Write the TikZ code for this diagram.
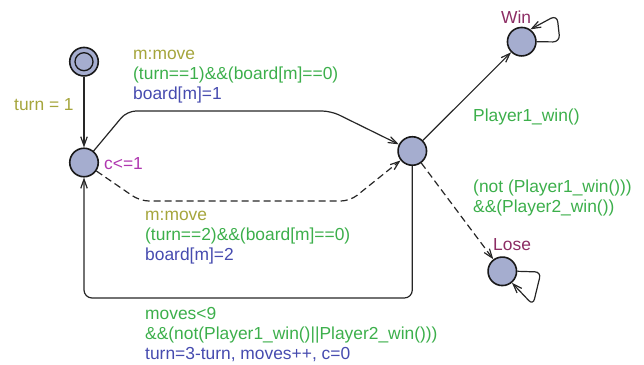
\documentclass[tikz,border=0pt]{standalone}
\usepackage{fontspec}
\setmainfont{Liberation Sans}
\usetikzlibrary{arrows.meta}
\definecolor{selcol}{RGB}{165,165,60}
\definecolor{guardcol}{RGB}{60,175,75}
\definecolor{updcol}{RGB}{70,75,175}
\definecolor{invcol}{RGB}{175,55,175}
\definecolor{namecol}{RGB}{140,45,100}
\definecolor{locfill}{RGB}{165,173,207}
\begin{document}
\begin{tikzpicture}[x=1pt,y=-1pt,
  loc/.style={circle,draw=black!90,line width=1.6pt,fill=locfill,minimum size=28.5pt,inner sep=0pt},
  trans/.style={line width=1.2pt,draw=black!85,-{Straight Barb[length=9pt,width=6.5pt]}},
  dashedtrans/.style={trans,dash pattern=on 7pt off 4pt},
  lbl/.style={anchor=base west,inner sep=0pt,font=\fontsize{17.4}{20}\selectfont}]
\useasboundingbox (0,0) rectangle (644,364);

% locations
\node[loc] (init) at (84,61.7) {};
\draw[line width=1.3pt,draw=black!90] (init.center) circle (9pt);
\node[loc] (A) at (84,162.5) {};
\node[loc] (B) at (412.3,151) {};
\node[loc] (Win) at (521.7,41.7) {};
\node[loc] (Lose) at (502.3,271.3) {};

% transitions
\draw[trans] (init) -- (A);
\draw[trans,rounded corners=9pt] (A) -- (127,111) -- (331,111) -- (B);
\draw[dashedtrans,rounded corners=9pt] (A) -- (140,201) -- (350,201) -- (B);
\draw[trans,rounded corners=8pt] (B) -- (412.3,298) -- (84,298) -- (A);
\draw[trans] (B) -- (Win);
\draw[dashedtrans] (B) -- (Lose);
\draw[trans,rounded corners=7pt] (Win.east) -- (560,42) -- (557,15) -- (Win.55);
\draw[trans,rounded corners=6pt] (Lose.east) -- (541,272) -- (533,305) -- (Lose.-50);

% labels
\node[lbl,selcol] (t1) at (14,110) {turn = 1};
\node[lbl,selcol] (s1) at (133,59) {m:move};
\node[lbl,guardcol] (g1) at (133,79) {(turn==1)\&\&(board[m]==0)};
\node[lbl,updcol] (u1) at (133,99) {board[m]=1};
\node[lbl,invcol] (inv) at (104,169) {c<=1};
\node[lbl,selcol] (s2) at (145,220) {m:move};
\node[lbl,guardcol] (g2) at (145,240) {(turn==2)\&\&(board[m]==0)};
\node[lbl,updcol] (u2) at (145,260) {board[m]=2};
\node[lbl,guardcol] (g3) at (145,319) {moves<9};
\node[lbl,guardcol] (g3b) at (145,339) {\&\&(not(Player1\_win()||Player2\_win()))};
\node[lbl,updcol] (u3) at (145,359) {turn=3-turn, moves++, c=0};
\node[lbl,guardcol] (g4) at (473,121) {Player1\_win()};
\node[lbl,guardcol] (g5) at (473,192) {(not (Player1\_win()))};
\node[lbl,guardcol] (g5b) at (473,212) {\&\&(Player2\_win())};
\node[lbl,namecol] (nw) at (501,23) {Win};
\node[lbl,namecol] (nl) at (493,250) {Lose};
\end{tikzpicture}
\end{document}
